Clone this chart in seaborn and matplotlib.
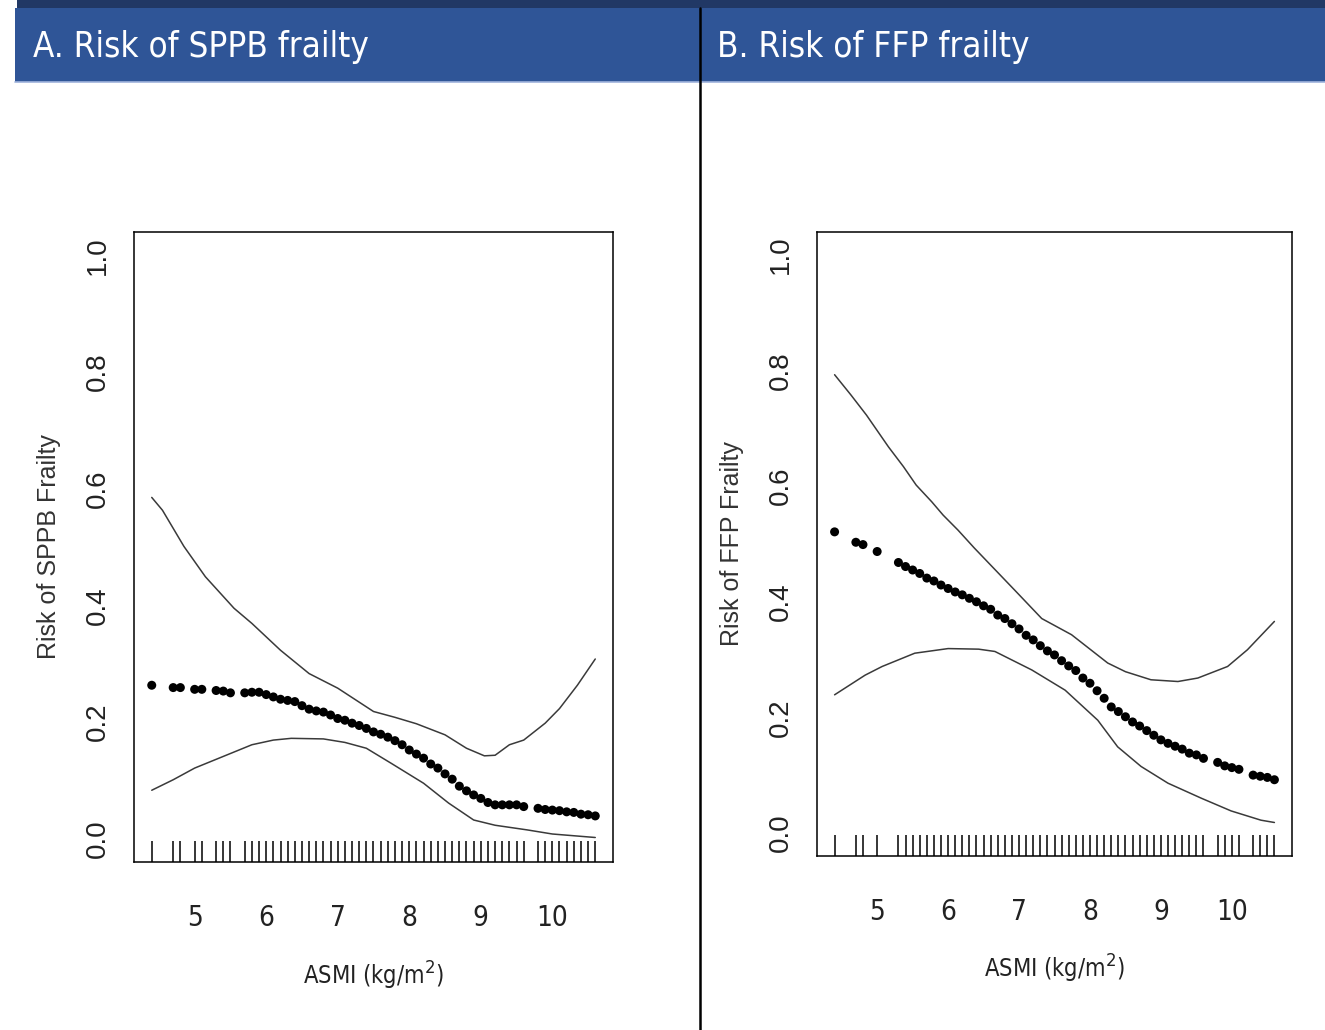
import matplotlib
matplotlib.use("Agg")
import matplotlib.pyplot as plt
import seaborn as sns
from matplotlib import font_manager
from matplotlib.font_manager import FontProperties
from matplotlib.patches import Rectangle
from matplotlib.lines import Line2D

# ASMI values (rug + fitted points), panel A
asmi_a = [4.4, 4.7, 4.8, 5.0, 5.1, 5.3, 5.4, 5.5,
          5.7, 5.8, 5.9, 6.0, 6.1, 6.2, 6.3, 6.4, 6.5, 6.6,
          6.7, 6.8, 6.9, 7.0, 7.1, 7.2, 7.3, 7.4, 7.5, 7.6,
          7.7, 7.8, 7.9, 8.0, 8.1, 8.2, 8.3, 8.4, 8.5, 8.6,
          8.7, 8.8, 8.9, 9.0, 9.1, 9.2, 9.3, 9.4, 9.5, 9.6,
          9.8, 9.9, 10.0, 10.1, 10.2, 10.3, 10.4, 10.5, 10.6]
risk_a = [0.263, 0.259, 0.259, 0.256, 0.256, 0.254, 0.253, 0.250,
          0.250, 0.251, 0.251, 0.247, 0.243, 0.239, 0.237, 0.235, 0.228, 0.222,
          0.219, 0.217, 0.212, 0.206, 0.203, 0.198, 0.194, 0.189, 0.183, 0.179,
          0.174, 0.168, 0.161, 0.152, 0.145, 0.138, 0.128, 0.121, 0.111, 0.102,
          0.090, 0.082, 0.075, 0.069, 0.062, 0.058, 0.058, 0.058, 0.058, 0.055,
          0.052, 0.050, 0.049, 0.048, 0.046, 0.045, 0.042, 0.041, 0.039]
ci_hi_a_x = [4.4, 4.55, 4.85, 5.15, 5.55, 5.8, 6.2, 6.6, 7.0, 7.5, 7.8,
             8.1, 8.5, 8.8, 9.05, 9.2, 9.4, 9.6, 9.9, 10.1, 10.35, 10.6]
ci_hi_a = [0.585, 0.563, 0.501, 0.449, 0.395, 0.369, 0.323, 0.283, 0.258, 0.218, 0.208,
           0.197, 0.178, 0.155, 0.142, 0.143, 0.161, 0.169, 0.198, 0.223, 0.263, 0.308]
ci_lo_a_x = [4.4, 4.7, 5.0, 5.4, 5.8, 6.1, 6.35, 6.8, 7.1, 7.4, 7.75,
             8.2, 8.55, 8.9, 9.2, 9.65, 10.0, 10.6]
ci_lo_a = [0.083, 0.101, 0.121, 0.141, 0.161, 0.169, 0.172, 0.171, 0.165, 0.155, 0.129,
           0.095, 0.061, 0.032, 0.023, 0.015, 0.008, 0.002]

# panel B
asmi_b = [4.4, 4.7, 4.8, 5.0,
          5.3, 5.4, 5.5, 5.6, 5.7, 5.8, 5.9, 6.0, 6.1, 6.2,
          6.3, 6.4, 6.5, 6.6, 6.7, 6.8, 6.9, 7.0, 7.1, 7.2,
          7.3, 7.4, 7.5, 7.6, 7.7, 7.8, 7.9, 8.0, 8.1, 8.2,
          8.3, 8.4, 8.5, 8.6, 8.7, 8.8, 8.9, 9.0, 9.1, 9.2,
          9.3, 9.4, 9.5, 9.6,
          9.8, 9.9, 10.0, 10.1, 10.3, 10.4, 10.5, 10.6]
risk_b = [0.521, 0.503, 0.499, 0.487,
          0.468, 0.461, 0.455, 0.449, 0.441, 0.436, 0.429, 0.423, 0.417, 0.412,
          0.406, 0.400, 0.393, 0.387, 0.377, 0.371, 0.362, 0.353, 0.342, 0.334,
          0.324, 0.315, 0.308, 0.298, 0.289, 0.281, 0.268, 0.259, 0.246, 0.233,
          0.218, 0.210, 0.201, 0.192, 0.185, 0.177, 0.169, 0.161, 0.155, 0.150,
          0.145, 0.138, 0.135, 0.129,
          0.122, 0.116, 0.113, 0.110, 0.100, 0.098, 0.096, 0.092]
ci_hi_b_x = [4.4, 4.63, 4.85, 5.16, 5.37, 5.55, 5.77, 5.93, 6.14, 6.37, 6.94,
             7.32, 7.74, 8.25, 8.5, 8.86, 9.24, 9.52, 9.94, 10.22, 10.6]
ci_hi_b = [0.793, 0.758, 0.723, 0.668, 0.634, 0.602, 0.573, 0.550, 0.524, 0.493, 0.420,
           0.371, 0.343, 0.294, 0.279, 0.265, 0.262, 0.268, 0.288, 0.317, 0.366]
ci_lo_b_x = [4.4, 4.83, 5.07, 5.53, 6.0, 6.43, 6.66, 7.18, 7.65, 8.11, 8.39,
             8.72, 9.10, 9.57, 9.99, 10.41, 10.6]
ci_lo_b = [0.239, 0.273, 0.288, 0.311, 0.319, 0.318, 0.314, 0.282, 0.247, 0.195, 0.149,
           0.115, 0.086, 0.060, 0.038, 0.022, 0.018]

titles = ["A. Risk of SPPB frailty", "B. Risk of FFP frailty"]
ylabels = ["Risk of SPPB Frailty", "Risk of FFP Frailty"]
xlabel = "ASMI (kg/m$^2$)"
xticks = [5, 6, 7, 8, 9, 10]
yticks = [0.0, 0.2, 0.4, 0.6, 0.8, 1.0]


def has_font(name):
    try:
        font_manager.findfont(name, fallback_to_default=False)
        return True
    except ValueError:
        return False


def narrow_font():
    # look for any condensed / narrow sans on the system
    for f in font_manager.fontManager.ttflist:
        n = f.fname.replace(" ", "")
        if ("Narrow" in n or "Condensed" in n) and "Bold" not in n and "Oblique" not in n \
                and "Italic" not in n and "Mono" not in n and "Serif" not in n:
            return FontProperties(fname=f.fname)
    return None


sns.set_style("white")
regular = "Liberation Sans" if has_font("Liberation Sans") else "DejaVu Sans"
plt.rcParams["font.family"] = [regular, "DejaVu Sans"]
nprop = narrow_font()
if nprop is None:
    title_kw = dict(family=regular, fontsize=24.5)
    tick_kw = dict(family=regular, fontsize=19)
    xlab_kw = dict(family=regular, fontsize=16)
else:
    title_kw = dict(fontproperties=nprop, fontsize=25)
    tick_kw = dict(fontproperties=nprop, fontsize=20)
    xlab_kw = dict(fontproperties=nprop, fontsize=17)

W, H = 1325, 1030
fig = plt.figure(figsize=(W / 100, H / 100), dpi=100)
fig.patch.set_facecolor("white")

# header bars
fig.patches.append(Rectangle((17 / W, 1 - 8 / H), 1, 8 / H, transform=fig.transFigure,
                             facecolor="#213865", edgecolor="none"))
fig.patches.append(Rectangle((15 / W, 1 - 82 / H), 1, 74 / H, transform=fig.transFigure,
                             facecolor="#2f5597", edgecolor="none"))
fig.lines.append(Line2D([15 / W, 1], [1 - 82 / H, 1 - 82 / H], transform=fig.transFigure,
                        color="#9fb3dc", lw=1.2))
fig.lines.append(Line2D([700 / W, 700 / W], [0, 1 - 8 / H], transform=fig.transFigure,
                        color="black", lw=1.8))
fig.text(33 / W, 1 - 57 / H, titles[0], color="white", ha="left", va="baseline", **title_kw)
fig.text(717 / W, 1 - 57 / H, titles[1], color="white", ha="left", va="baseline", **title_kw)

panels = [
    dict(rect=[134 / W, 1 - 862 / H, 479 / W, 630 / H], x=asmi_a, y=risk_a,
         hx=ci_hi_a_x, hy=ci_hi_a, lx=ci_lo_a_x, ly=ci_lo_a, ylab=ylabels[0]),
    dict(rect=[817 / W, 1 - 856 / H, 475 / W, 624 / H], x=asmi_b, y=risk_b,
         hx=ci_hi_b_x, hy=ci_hi_b, lx=ci_lo_b_x, ly=ci_lo_b, ylab=ylabels[1]),
]

for p in panels:
    ax = fig.add_axes(p["rect"])
    sns.lineplot(x=p["hx"], y=p["hy"], ax=ax, color="#3a3a3a", linewidth=1.1, estimator=None)
    sns.lineplot(x=p["lx"], y=p["ly"], ax=ax, color="#3a3a3a", linewidth=1.1, estimator=None)
    sns.scatterplot(x=p["x"], y=p["y"], ax=ax, color="black", s=42, edgecolor="none")
    sns.rugplot(x=p["x"], ax=ax, height=0.033, color="black", linewidth=1.1,
                expand_margins=False)
    ax.set_xlim(4.152, 10.848)
    ax.set_ylim(-0.04, 1.04)
    ax.set_xticks(xticks)
    ax.set_xticklabels([str(t) for t in xticks], color="#222222", **tick_kw)
    ax.set_yticks(yticks)
    ax.set_yticklabels([f"{t:.1f}" for t in yticks], fontsize=20, rotation=90,
                       va="center", color="#222222")
    ax.tick_params(axis="x", direction="out", length=12, width=1, pad=18, colors="black",
                   labelcolor="#222222")
    ax.tick_params(axis="y", direction="out", length=9, width=1, pad=8, colors="black",
                   labelcolor="#222222")
    for s in ax.spines.values():
        s.set_color("black")
        s.set_linewidth(1.1)
        s.set_visible(True)
    ax.set_xlabel(xlabel, color="#222222", **xlab_kw)
    ax.xaxis.set_label_coords(0.5, -0.155)
    ax.set_ylabel(p["ylab"], fontsize=18, color="#333333")
    ax.yaxis.set_label_coords(-0.153, 0.5)
    ax.grid(False)

fig.savefig("out.png", dpi=100, facecolor="white")
